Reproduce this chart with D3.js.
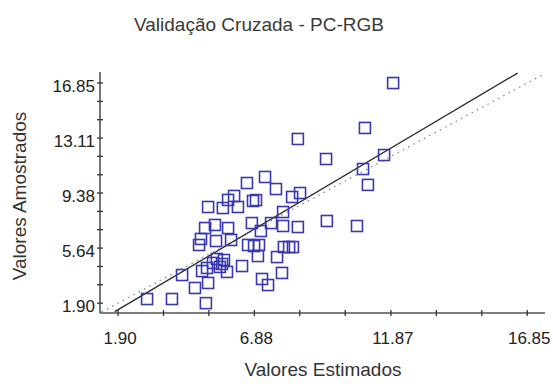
<!DOCTYPE html>
<html>
<head>
<meta charset="utf-8">
<script src="https://cdn.jsdelivr.net/npm/d3@7"></script>
<style>
  html, body { margin: 0; padding: 0; background: #fff; }
  svg { display: block; font-family: "Liberation Sans", Arial, sans-serif; }
</style>
</head>
<body>
<svg id="chart" width="553" height="388"></svg>
<script>
// Cross-validation: estimated vs sampled values
const estimated = [
  11.95, 10.92, 11.62, 10.85, 11.03, 9.50, 8.47, 7.27, 6.61, 7.67,
  6.14, 6.83, 6.94, 5.92, 5.19, 5.73, 8.26, 8.55, 7.93, 9.53,
  10.63, 5.08, 5.44, 5.92, 6.79, 7.12, 7.49, 7.93, 8.47, 4.93,
  5.48, 6.03, 6.65, 6.87, 7.05, 7.96, 8.15, 8.29, 7.01, 7.71,
  6.43, 5.37, 5.70, 5.15, 4.97, 5.88, 4.24, 5.19, 4.71, 7.16,
  7.38, 7.89, 2.96, 3.87, 5.11, 5.51, 5.62, 5.77, 4.86, 6.28
];
const sampled = [
  16.85, 13.80, 11.96, 11.01, 9.93, 11.69, 13.05, 10.47, 10.06, 9.65,
  9.18, 8.84, 8.90, 8.91, 8.43, 8.36, 9.11, 9.38, 8.09, 7.48,
  7.14, 7.00, 7.21, 7.00, 7.34, 6.80, 7.34, 7.14, 7.07, 6.26,
  6.12, 6.19, 5.85, 5.78, 5.85, 5.71, 5.71, 5.71, 5.10, 5.03,
  4.42, 4.63, 4.56, 4.29, 4.08, 4.02, 3.81, 3.27, 2.93, 3.54,
  3.13, 3.95, 2.18, 2.18, 1.90, 4.90, 4.36, 4.83, 5.85, 8.43
];

// Axis ticks (labelled ones are a subset)
const xTicks = [1.90, 3.56, 5.22, 6.88, 8.54, 10.20, 11.87, 13.53, 15.19, 16.85];
const xLabels = [1.90, 6.88, 11.87, 16.85];
const yTicks = [1.90, 3.15, 4.39, 5.64, 6.89, 8.13, 9.38, 10.62, 11.87, 13.11, 14.36, 15.60, 16.85];
const yLabels = [1.90, 5.64, 9.38, 13.11, 16.85];

// Regression line (slope, intercept) and its drawn x extent
const regression = [1.101, -0.64];
const regressionExtent = [1.78, 16.5];
const identityExtent = [1.3, 17.5];

const titleText = "Validação Cruzada - PC-RGB";
const xTitle = "Valores Estimados";
const yTitle = "Valores Amostrados";

const svg = d3.select("#chart");

const x = d3.scaleLinear().domain([1.24, 17.5]).range([100, 545]);
const y = d3.scaleLinear().domain([1.23, 17.6]).range([313, 72]);

// Title
svg.append("text")
  .attr("x", 259).attr("y", 31)
  .attr("text-anchor", "middle")
  .attr("font-size", 19)
  .attr("fill", "#3a3a3a")
  .text(titleText);

// 1:1 reference line (dotted)
svg.append("line")
  .attr("x1", x(identityExtent[0])).attr("y1", y(identityExtent[0]))
  .attr("x2", x(identityExtent[1])).attr("y2", y(identityExtent[1]))
  .attr("stroke", "#888")
  .attr("stroke-width", 1.3)
  .attr("stroke-dasharray", "1.5,4.5");

// Regression line
svg.append("line")
  .attr("x1", x(regressionExtent[0]))
  .attr("y1", y(regression[0] * regressionExtent[0] + regression[1]))
  .attr("x2", x(regressionExtent[1]))
  .attr("y2", y(regression[0] * regressionExtent[1] + regression[1]))
  .attr("stroke", "#2a2a2a")
  .attr("stroke-width", 1.3);

// Points as open squares
const s = 11;
svg.append("g")
  .selectAll("rect")
  .data(d3.zip(estimated, sampled))
  .join("rect")
  .attr("x", d => x(d[0]) - s / 2)
  .attr("y", d => y(d[1]) - s / 2)
  .attr("width", s).attr("height", s)
  .attr("fill", "none")
  .attr("stroke", "#3838b0")
  .attr("stroke-width", 1.6);

// Axes lines
const axisColor = "#555";
svg.append("line")
  .attr("x1", x.range()[0]).attr("x2", x.range()[1])
  .attr("y1", y.range()[0]).attr("y2", y.range()[0])
  .attr("stroke", axisColor).attr("stroke-width", 1.6);
svg.append("line")
  .attr("x1", x.range()[0]).attr("x2", x.range()[0])
  .attr("y1", y.range()[0]).attr("y2", y.range()[1])
  .attr("stroke", axisColor).attr("stroke-width", 1.6);

// Tick marks crossing the axes
svg.append("g").selectAll("line")
  .data(xTicks).join("line")
  .attr("x1", d => x(d)).attr("x2", d => x(d))
  .attr("y1", y.range()[0] - 3).attr("y2", y.range()[0] + 3)
  .attr("stroke", "#333").attr("stroke-width", 1.3);
svg.append("g").selectAll("line")
  .data(yTicks).join("line")
  .attr("y1", d => y(d)).attr("y2", d => y(d))
  .attr("x1", x.range()[0] - 3).attr("x2", x.range()[0] + 3)
  .attr("stroke", "#333").attr("stroke-width", 1.3);

// Tick labels
svg.append("g").selectAll("text")
  .data(xLabels).join("text")
  .attr("x", d => x(d) + 2).attr("y", 344)
  .attr("text-anchor", "middle")
  .attr("font-size", 17)
  .attr("fill", "#222")
  .text(d => d3.format(".2f")(d));
svg.append("g").selectAll("text")
  .data(yLabels).join("text")
  .attr("x", 95).attr("y", d => y(d) + 9)
  .attr("text-anchor", "end")
  .attr("font-size", 17)
  .attr("fill", "#222")
  .text(d => d3.format(".2f")(d));

// Axis titles
svg.append("text")
  .attr("x", 323).attr("y", 376)
  .attr("text-anchor", "middle")
  .attr("font-size", 19)
  .attr("fill", "#333")
  .text(xTitle);
svg.append("text")
  .attr("transform", "translate(26,196) rotate(-90)")
  .attr("text-anchor", "middle")
  .attr("font-size", 19)
  .attr("fill", "#333")
  .text(yTitle);
</script>
</body>
</html>
